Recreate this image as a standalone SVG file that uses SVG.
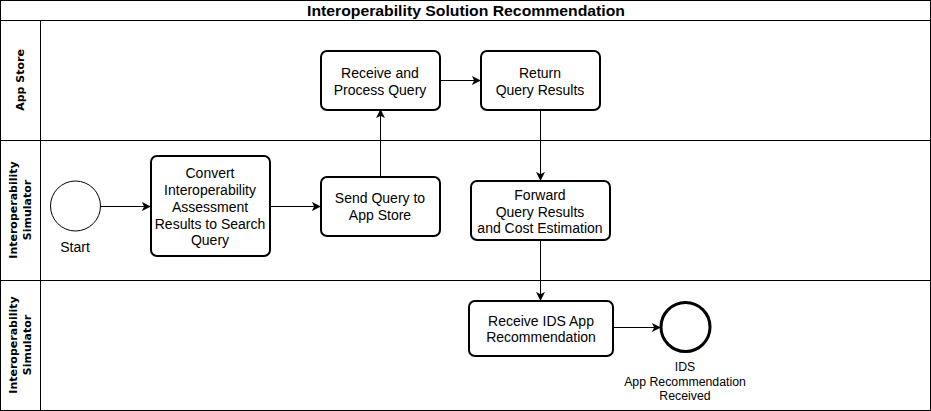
<svg xmlns="http://www.w3.org/2000/svg" width="931" height="411" viewBox="0 0 931 411">
<style>
.t{font-family:"Liberation Sans",Arial,sans-serif;font-size:14px;fill:#000;text-anchor:middle}
.lane{font-family:"DejaVu Sans",Verdana,sans-serif;font-size:11px;font-weight:bold;fill:#000;text-anchor:middle}
.box{fill:#fff;stroke:#000;stroke-width:2}
.ln{fill:none;stroke:#000;stroke-width:1}
.c{stroke:#000;stroke-width:1;fill:none}
</style>
<defs>
<marker id="a" viewBox="0 0 10 10" refX="9" refY="5" markerWidth="9" markerHeight="9" markerUnits="userSpaceOnUse" orient="auto">
<path d="M0,0 L10,5 L0,10 L2.5,5 Z" fill="#000"/>
</marker>
</defs>
<g id="pool">
<rect x="0.5" y="0.5" width="930" height="410" fill="#fff" stroke="#000"/>
<line class="ln" x1="0" y1="20.5" x2="931" y2="20.5"/>
<line class="ln" x1="0" y1="140.5" x2="931" y2="140.5"/>
<line class="ln" x1="0" y1="280.5" x2="931" y2="280.5"/>
<line class="ln" x1="40.5" y1="20" x2="40.5" y2="411"/>
<text x="466" y="16" textLength="318" lengthAdjust="spacingAndGlyphs" style="font-family:'Liberation Sans',Arial,sans-serif;font-size:14px;font-weight:bold;text-anchor:middle">Interoperability Solution Recommendation</text>
<text class="lane" transform="translate(24,80) rotate(-90)">App Store</text>
<text class="lane" transform="translate(20,210) rotate(-90)"><tspan x="0" y="-3">Interoperability</tspan><tspan x="0" y="11">Simulator</tspan></text>
<text class="lane" transform="translate(20,345) rotate(-90)"><tspan x="0" y="-3">Interoperability</tspan><tspan x="0" y="11">Simulator</tspan></text>
</g>
<g id="connectors">
<line class="c" x1="100" y1="206.5" x2="150" y2="206.5" marker-end="url(#a)"/>
<line class="c" x1="270" y1="206.5" x2="320" y2="206.5" marker-end="url(#a)"/>
<line class="c" x1="380.5" y1="176" x2="380.5" y2="110" marker-end="url(#a)"/>
<line class="c" x1="440" y1="80.5" x2="480" y2="80.5" marker-end="url(#a)"/>
<line class="c" x1="540.5" y1="110" x2="540.5" y2="180" marker-end="url(#a)"/>
<line class="c" x1="540.5" y1="240" x2="540.5" y2="300" marker-end="url(#a)"/>
<line class="c" x1="613" y1="327.5" x2="660" y2="327.5" marker-end="url(#a)"/>
</g>
<g id="start">
<circle cx="75.5" cy="206" r="25" fill="#fff" stroke="#000" stroke-width="1"/>
<text class="t" x="75" y="252">Start</text>
</g>
<g id="convert">
<rect class="box" x="151" y="156" width="119" height="100" rx="6"/>
<text class="t"><tspan x="210" y="178">Convert</tspan><tspan x="210" y="195">Interoperability</tspan><tspan x="210" y="212">Assessment</tspan><tspan x="210" y="229">Results to Search</tspan><tspan x="210" y="245">Query</tspan></text>
</g>
<g id="send">
<rect class="box" x="321" y="177" width="119" height="59" rx="6"/>
<text class="t"><tspan x="380" y="203">Send Query to</tspan><tspan x="380" y="220">App Store</tspan></text>
</g>
<g id="receive">
<rect class="box" x="321" y="51" width="119" height="59" rx="6"/>
<text class="t"><tspan x="380" y="78">Receive and</tspan><tspan x="380" y="95">Process Query</tspan></text>
</g>
<g id="return">
<rect class="box" x="481" y="51" width="119" height="59" rx="6"/>
<text class="t"><tspan x="540" y="78">Return</tspan><tspan x="540" y="95">Query Results</tspan></text>
</g>
<g id="forward">
<rect class="box" x="471" y="181" width="139" height="59" rx="6"/>
<text class="t"><tspan x="540" y="200">Forward</tspan><tspan x="540" y="217">Query Results</tspan><tspan x="540" y="233">and Cost Estimation</tspan></text>
</g>
<g id="receiveIds">
<rect class="box" x="469" y="301" width="144" height="55" rx="6"/>
<text class="t"><tspan x="541" y="326">Receive IDS App</tspan><tspan x="541" y="342">Recommendation</tspan></text>
</g>
<g id="end">
<circle cx="685.5" cy="327" r="24.5" fill="#fff" stroke="#000" stroke-width="3"/>
<text class="t" style="font-size:12.3px"><tspan x="685" y="371">IDS</tspan><tspan x="685" y="386">App Recommendation</tspan><tspan x="685" y="400">Received</tspan></text>
</g>
</svg>
